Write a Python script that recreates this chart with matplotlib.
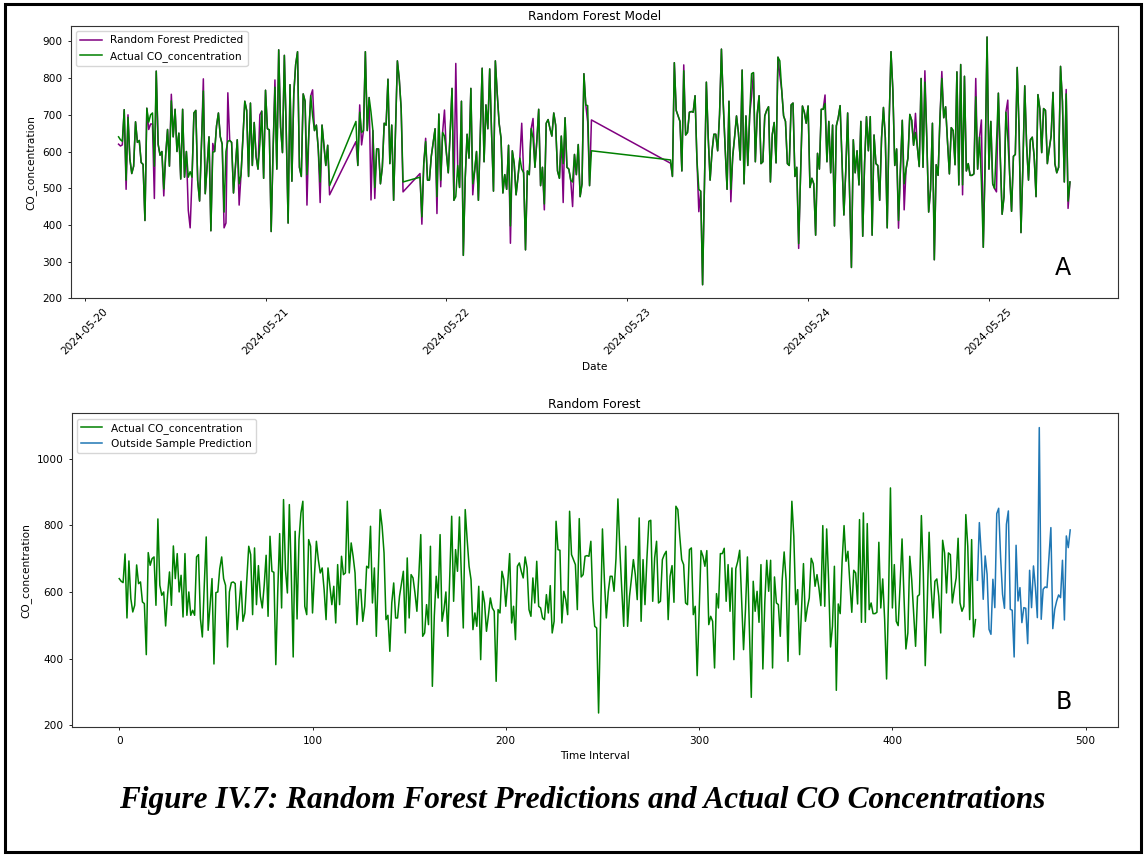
import matplotlib
matplotlib.use("Agg")
import matplotlib.pyplot as plt
import matplotlib.dates as mdates
from matplotlib.ticker import MultipleLocator
from matplotlib.patches import Rectangle
import numpy as np
import pandas as pd

# measured CO concentration, 15 min steps (index 0..443)
actual_co = [
    640, 632, 628, 714, 522, 693, 580, 540, 560, 681, 625, 630, 570, 565, 412, 718, 680, 700, 705, 560,
    819, 620, 590, 600, 498, 590, 660, 560, 738, 640, 715, 600, 650, 525, 715, 530, 600, 530, 545, 530,
    705, 712, 520, 465, 620, 765, 485, 560, 640, 384, 598, 600, 670, 705, 640, 620, 435, 600, 628, 630,
    625, 487, 557, 632, 512, 537, 637, 737, 712, 532, 732, 562, 679, 587, 552, 620, 710, 527, 767, 662,
    659, 382, 600, 775, 552, 877, 667, 597, 862, 657, 405, 782, 519, 757, 837, 872, 557, 532, 757, 737,
    537, 650, 752, 697, 657, 672, 607, 517, 672, 617, 562, 617, 507, 682, 562, 707, 652, 657, 872, 657,
    747, 707, 657, 502, 607, 607, 512, 557, 677, 672, 797, 567, 672, 467, 660, 847, 797, 717, 517, 530,
    422, 567, 627, 522, 522, 587, 625, 662, 477, 702, 522, 652, 642, 597, 542, 650, 772, 467, 477, 562,
    502, 737, 317, 527, 647, 582, 772, 512, 547, 600, 467, 650, 827, 572, 727, 662, 825, 650, 492, 847,
    757, 677, 637, 487, 537, 497, 617, 397, 602, 567, 482, 530, 582, 552, 542, 332, 547, 537, 662, 637,
    557, 627, 715, 507, 557, 457, 677, 687, 662, 642, 705, 672, 547, 527, 642, 567, 692, 557, 552, 522,
    517, 592, 537, 619, 477, 512, 812, 727, 725, 507, 602, 577, 532, 842, 712, 697, 682, 547, 820, 645,
    652, 707, 709, 707, 752, 577, 497, 492, 237, 507, 789, 637, 522, 600, 647, 647, 602, 700, 879, 727,
    607, 497, 737, 497, 587, 640, 697, 652, 577, 822, 512, 697, 562, 700, 812, 815, 572, 702, 752, 567,
    572, 697, 712, 722, 517, 647, 679, 569, 857, 847, 767, 697, 682, 567, 562, 727, 732, 532, 557, 349,
    537, 724, 707, 677, 724, 502, 527, 512, 372, 595, 552, 715, 715, 731, 572, 682, 542, 672, 397, 670,
    692, 725, 577, 427, 547, 705, 497, 284, 632, 542, 602, 509, 682, 369, 570, 695, 602, 695, 372, 645,
    567, 562, 467, 637, 720, 637, 392, 677, 872, 767, 562, 607, 412, 552, 685, 512, 552, 582, 701, 685,
    617, 652, 612, 559, 799, 557, 789, 637, 435, 497, 677, 305, 564, 535, 692, 799, 692, 722, 627, 539,
    665, 657, 564, 817, 509, 837, 509, 805, 547, 567, 535, 535, 539, 749, 552, 639, 517, 339, 577, 912,
    552, 682, 512, 499, 622, 759, 587, 429, 477, 707, 637, 537, 437, 587, 592, 829, 657, 379, 557, 779,
    617, 522, 632, 639, 587, 477, 755, 717, 597, 717, 712, 567, 607, 642, 761, 567, 542, 557, 832, 737,
    517, 757, 465, 517,
]

# model output where it differs visibly from the measurement (index: value)
predicted_diff = {
    0: 620, 1: 615, 2: 618, 4: 497, 5: 700, 16: 660, 17: 675, 18: 675, 19: 472, 24: 479,
    28: 756, 37: 440, 38: 392, 45: 798, 50: 622, 56: 392, 57: 405, 58: 760, 64: 454, 75: 700,
    83: 795, 100: 454, 103: 768, 107: 461, 112: 482, 113: 627, 115: 727, 116: 618, 121: 468,
    123: 472, 138: 490, 139: 540, 140: 402, 142: 636, 148: 431, 150: 504, 152: 713, 158: 840,
    167: 482, 187: 350, 193: 677, 199: 690, 205: 441, 215: 461, 220: 450, 228: 681, 230: 686,
    231: 568, 238: 836, 246: 436, 263: 463, 274: 750, 289: 808, 299: 336, 313: 754, 352: 391,
    355: 441, 361: 704, 366: 820, 375: 818, 386: 482, 393: 799, 396: 686, 404: 490, 410: 740,
    441: 769, 442: 445,
}

# recording periods (start, number of 15 min samples)
segment_starts = ["2024-05-20 04:30", "2024-05-21 12:00", "2024-05-21 20:30", "2024-05-23 05:45"]
segment_lengths = [113, 26, 92, 213]

# out of sample forecast, indices 444..492
outside_pred = [
    635, 808, 713, 578, 708, 653, 488, 473, 638, 553, 835, 851, 703, 593, 551, 803, 843, 548, 545, 405,
    740, 573, 613, 508, 553, 551, 445, 665, 553, 678, 613, 523, 1093, 518, 608, 615, 613, 703, 793, 490,
    548, 573, 591, 583, 695, 516, 768, 733, 786,
]

dates = pd.DatetimeIndex(np.concatenate([
    pd.date_range(s, periods=n, freq="15min") for s, n in zip(segment_starts, segment_lengths)
]))
predicted = list(actual_co)
for k, v in predicted_diff.items():
    predicted[k] = v

fs = 7.6
fig = plt.figure(figsize=(11.47, 8.55), dpi=100)

# top panel
ax1 = fig.add_axes([0.0619, 0.6511, 0.9124, 0.3185])
ax1.plot(dates, predicted, color="purple", lw=1.1, label="Random Forest Predicted")
ax1.plot(dates, actual_co, color="green", lw=1.1, label="Actual CO_concentration")
ax1.set_title("Random Forest Model", fontsize=8.8, pad=4)
ax1.set_xlabel("Date", fontsize=fs)
ax1.set_ylabel("CO_concentration", fontsize=fs)
ax1.set_ylim(200, 942)
ax1.xaxis.set_major_locator(mdates.DayLocator())
ax1.xaxis.set_major_formatter(mdates.DateFormatter("%Y-%m-%d"))
ax1.yaxis.set_major_locator(MultipleLocator(100))
ax1.tick_params(labelsize=fs, length=2.5, width=0.6)
plt.setp(ax1.get_xticklabels(), rotation=45)
ax1.legend(loc="upper left", fontsize=fs)
ax1.text(0.948, 0.11, "A", transform=ax1.transAxes, fontsize=17, ha="center", va="center")

# bottom panel
ax2 = fig.add_axes([0.0625, 0.1494, 0.912, 0.3672])
idx_actual = np.arange(len(actual_co))
idx_out = np.arange(len(actual_co), len(actual_co) + len(outside_pred))
ax2.plot(idx_actual, actual_co, color="green", lw=1.1, label="Actual CO_concentration")
ax2.plot(idx_out, outside_pred, color="#1f77b4", lw=1.1, label="Outside Sample Prediction")
ax2.set_title("Random Forest", fontsize=8.8, pad=4)
ax2.set_xlabel("Time Interval", fontsize=fs)
ax2.set_ylabel("CO_concentration", fontsize=fs)
ax2.yaxis.set_major_locator(MultipleLocator(200))
ax2.xaxis.set_major_locator(MultipleLocator(100))
ax2.tick_params(labelsize=fs, length=2.5, width=0.6)
ax2.legend(loc="upper left", fontsize=fs)
ax2.text(0.948, 0.081, "B", transform=ax2.transAxes, fontsize=17, ha="center", va="center")

for ax in (ax1, ax2):
    for sp in ax.spines.values():
        sp.set_linewidth(0.8)
        sp.set_color("#333333")

fig.text(0.508, 1 - 800 / 855, "Figure IV.7: Random Forest Predictions and Actual CO Concentrations",
         family="Liberation Serif", style="italic", weight="bold", fontsize=22.5,
         ha="center", va="center")

fig.patches.append(Rectangle((5 / 1147, 3 / 855), 1136 / 1147, 848 / 855, transform=fig.transFigure,
                             fill=False, edgecolor="black", lw=2.2))

fig.savefig("out.png", dpi=100)
